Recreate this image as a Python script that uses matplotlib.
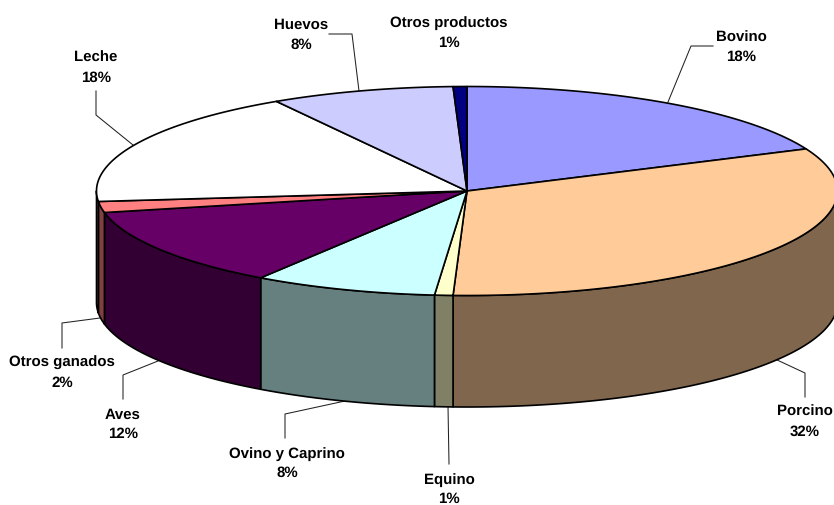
import numpy as np
import matplotlib
matplotlib.use("Agg")
import matplotlib.pyplot as plt
from matplotlib.colors import to_rgb

plt.rcParams["text.hinting"] = "none"
plt.rcParams["text.hinting_factor"] = 1

CATEGORIES = ["Bovino", "Porcino", "Equino", "Ovino y Caprino", "Aves",
              "Otros ganados", "Leche", "Huevos", "Otros productos"]
SHARES = [18.4, 32.2, 0.8, 8.0, 12.3, 1.7, 18.0, 8.0, 0.6]
COLORS = ["#9999FF", "#FFCC99", "#FFFFCC", "#CCFFFF", "#660066",
          "#FF8080", "#FFFFFF", "#CCCCFF", "#000080"]

# pie geometry in pixels
CX, CY = 467, 192
RX, RY = 370.5, 104.5
DEPTH = 111.5

# label centre, then the leader line from the label to the pie
LABEL_POS = {
    "Bovino": (741, 47.5),
    "Porcino": (805, 422),
    "Equino": (449, 489.5),
    "Ovino y Caprino": (287, 463.5),
    "Aves": (123, 424.5),
    "Otros ganados": (62, 373),
    "Leche": (96, 68),
    "Huevos": (301, 35),
    "Otros productos": (449, 33),
}
LEADERS = {
    "Bovino": [(713, 47), (691, 47), (668, 103)],
    "Porcino": [(805, 398), (805, 374), (775, 360)],
    "Equino": [(449, 465), (448, 407)],
    "Ovino y Caprino": [(285, 439), (285, 415), (345, 402)],
    "Aves": [(123, 400), (123, 376), (158, 362)],
    "Otros ganados": [(62, 349), (62, 324), (100, 319)],
    "Leche": [(96, 92), (96, 116), (133, 146)],
    "Huevos": [(329, 35), (352, 35), (359, 92)],
}


def rim(theta):
    # theta is clockwise from 12 o'clock, in radians
    return CX + RX * np.sin(theta), CY - RY * np.cos(theta)


fig = plt.figure(figsize=(8.34, 5.06), dpi=100)
ax = fig.add_axes([0, 0, 1, 1])
ax.set_xlim(0, 834)
ax.set_ylim(506, 0)
ax.axis("off")

edges = np.cumsum([0] + SHARES) / sum(SHARES) * 2 * np.pi

# side walls: only the front half (90 to 270 degrees) can be seen
for i, color in enumerate(COLORS):
    start = max(edges[i], np.pi / 2)
    end = min(edges[i + 1], 3 * np.pi / 2)
    if end <= start:
        continue
    t = np.linspace(start, end, 120)
    x, y = rim(t)
    dark = tuple(c * 0.5 for c in to_rgb(color))
    ax.fill(np.r_[x, x[::-1]], np.r_[y, y[::-1] + DEPTH], facecolor=dark,
            edgecolor="black", lw=1.2, joinstyle="round", zorder=2)

# top faces
for i, color in enumerate(COLORS):
    t = np.linspace(edges[i], edges[i + 1], 200)
    x, y = rim(t)
    ax.fill(np.r_[CX, x], np.r_[CY, y], facecolor=color,
            edgecolor="black", lw=1.2, joinstyle="round", zorder=3)

for name, points in LEADERS.items():
    px, py = zip(*points)
    ax.plot(px, py, color="#222222", lw=0.75, zorder=1)

for name, share in zip(CATEGORIES, SHARES):
    lx, ly = LABEL_POS[name]
    ax.text(lx, ly, f"{name}\n{int(share + 0.5)}%", ha="center", va="center",
            family="Liberation Sans", weight="bold", fontsize=10.7,
            linespacing=1.5, color="black", zorder=5)

fig.savefig("out.png", dpi=100)
